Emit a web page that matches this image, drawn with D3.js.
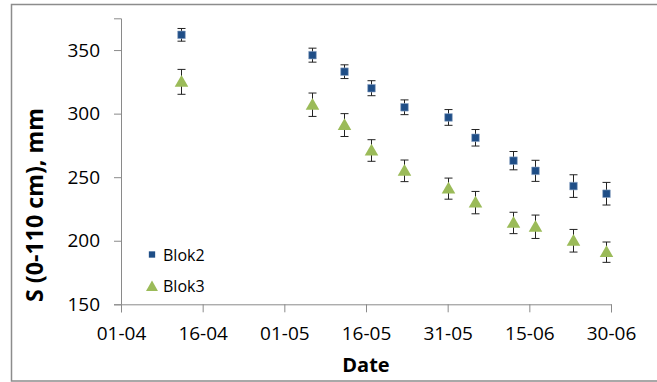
<!DOCTYPE html>
<html>
<head>
<meta charset="utf-8">
<script src="https://cdn.jsdelivr.net/npm/d3@7"></script>
<style>
  html, body { margin: 0; padding: 0; background: #fff; }
  svg { display: block; }
  text { font-family: "Open Sans", "Noto Sans", sans-serif; fill: #000; }
</style>
</head>
<body>
<svg id="chart" width="657" height="382"></svg>
<script>
// ---- data ----
const dates = ["12-04", "06-05", "12-05", "17-05", "23-05", "31-05", "05-06", "12-06", "16-06", "23-06", "29-06"];
const blok2 = [362, 346, 333, 320, 305, 297, 281, 263, 255, 243, 237];
const blok2Err = [5, 5.5, 5.4, 5.9, 5.8, 6.2, 6.5, 7.2, 8.3, 8.9, 8.9];
const blok3 = [325, 307, 291, 271, 255, 241, 230, 214, 211, 200, 191];
const blok3Err = [9.8, 9.2, 9, 8.5, 8.5, 8.3, 8.8, 8.4, 9.2, 8.9, 8];
const xTickLabels = ["01-04", "16-04", "01-05", "16-05", "31-05", "15-06", "30-06"];
const yTickValues = [150, 200, 250, 300, 350];
const seriesNames = ["Blok2", "Blok3"];
const yTitle = "S (0-110 cm), mm";
const xTitle = "Date";

const parse = d3.timeParse("%d-%m");
const svg = d3.select("#chart");

// outer frame
svg.append("path")
  .attr("d", "M657,4.5 H11.5 V381 H657")
  .attr("fill", "none").attr("stroke", "#8c8c8c").attr("stroke-width", 1.5);

const x = d3.scaleTime()
  .domain([parse(xTickLabels[0]), parse(xTickLabels[xTickLabels.length - 1])])
  .range([121, 611]);
const y = d3.scaleLinear().domain([150, 375]).range([304.3, 18.3]);

const axisColor = "#8a8a8a";
const fs = 19;

// y axis
const yAxis = svg.append("g").attr("transform", "translate(121,0)")
  .call(d3.axisLeft(y).tickValues(yTickValues).tickSize(7).tickPadding(14).tickFormat(d3.format("d")));
yAxis.select(".domain").attr("stroke", axisColor);
yAxis.selectAll(".tick line").attr("stroke", axisColor);
yAxis.selectAll(".tick text").attr("font-size", fs).attr("fill", "#000");

// x axis
const xAxis = svg.append("g").attr("transform", "translate(0,304.3)")
  .call(d3.axisBottom(x).tickValues(xTickLabels.map(parse)).tickSize(8).tickPadding(14)
    .tickFormat(d3.timeFormat("%d-%m")));
xAxis.select(".domain").attr("stroke", axisColor);
xAxis.selectAll(".tick line").attr("stroke", axisColor);
xAxis.selectAll(".tick text").attr("font-size", fs).attr("fill", "#000");

// titles
svg.append("text")
  .attr("transform", "translate(42.7,205) rotate(-90)")
  .attr("text-anchor", "middle")
  .attr("font-size", 23.2).attr("font-weight", "bold")
  .text(yTitle);
svg.append("text")
  .attr("x", 366).attr("y", 372.3)
  .attr("text-anchor", "middle")
  .attr("font-size", 20).attr("font-weight", "bold")
  .text(xTitle);

const blue = "#1F4E87";
const green = "#9BBB59";
const errColor = "#222";

function errorBars(vals, errs) {
  const g = svg.append("g").attr("stroke", errColor).attr("stroke-width", 1).attr("fill", "none");
  dates.forEach((d, i) => {
    const cx = Math.round(x(parse(d))) + 0.5;
    const y1 = y(vals[i] + errs[i]), y2 = y(vals[i] - errs[i]);
    g.append("line").attr("x1", cx).attr("x2", cx).attr("y1", y1).attr("y2", y2);
    g.append("line").attr("x1", cx - 4).attr("x2", cx + 4).attr("y1", y1).attr("y2", y1);
    g.append("line").attr("x1", cx - 4).attr("x2", cx + 4).attr("y1", y2).attr("y2", y2);
  });
}
errorBars(blok2, blok2Err);
errorBars(blok3, blok3Err);

const sq = d3.symbol().type(d3.symbolSquare).size(58);
const tri = d3.symbol().type(d3.symbolTriangle).size(80);

svg.append("g").selectAll("path").data(blok3).join("path")
  .attr("d", tri)
  .attr("transform", (v, i) => `translate(${Math.round(x(parse(dates[i]))) + 0.5},${y(v) + 1})`)
  .attr("fill", green);

svg.append("g").selectAll("path").data(blok2).join("path")
  .attr("d", sq)
  .attr("transform", (v, i) => `translate(${Math.round(x(parse(dates[i]))) + 0.5},${y(v)})`)
  .attr("fill", blue).attr("stroke", "#8ea6c6").attr("stroke-width", 0.6);

// legend
const lg = svg.append("g");
lg.append("path").attr("d", d3.symbol().type(d3.symbolSquare).size(40)())
  .attr("transform", "translate(152,254.5)").attr("fill", blue);
lg.append("path").attr("d", d3.symbol().type(d3.symbolTriangle).size(62)())
  .attr("transform", "translate(152,287.5)").attr("fill", green);
lg.append("text").attr("x", 163).attr("y", 260.5).attr("font-size", 16).text(seriesNames[0]);
lg.append("text").attr("x", 163).attr("y", 291.5).attr("font-size", 16).text(seriesNames[1]);
</script>
</body>
</html>
